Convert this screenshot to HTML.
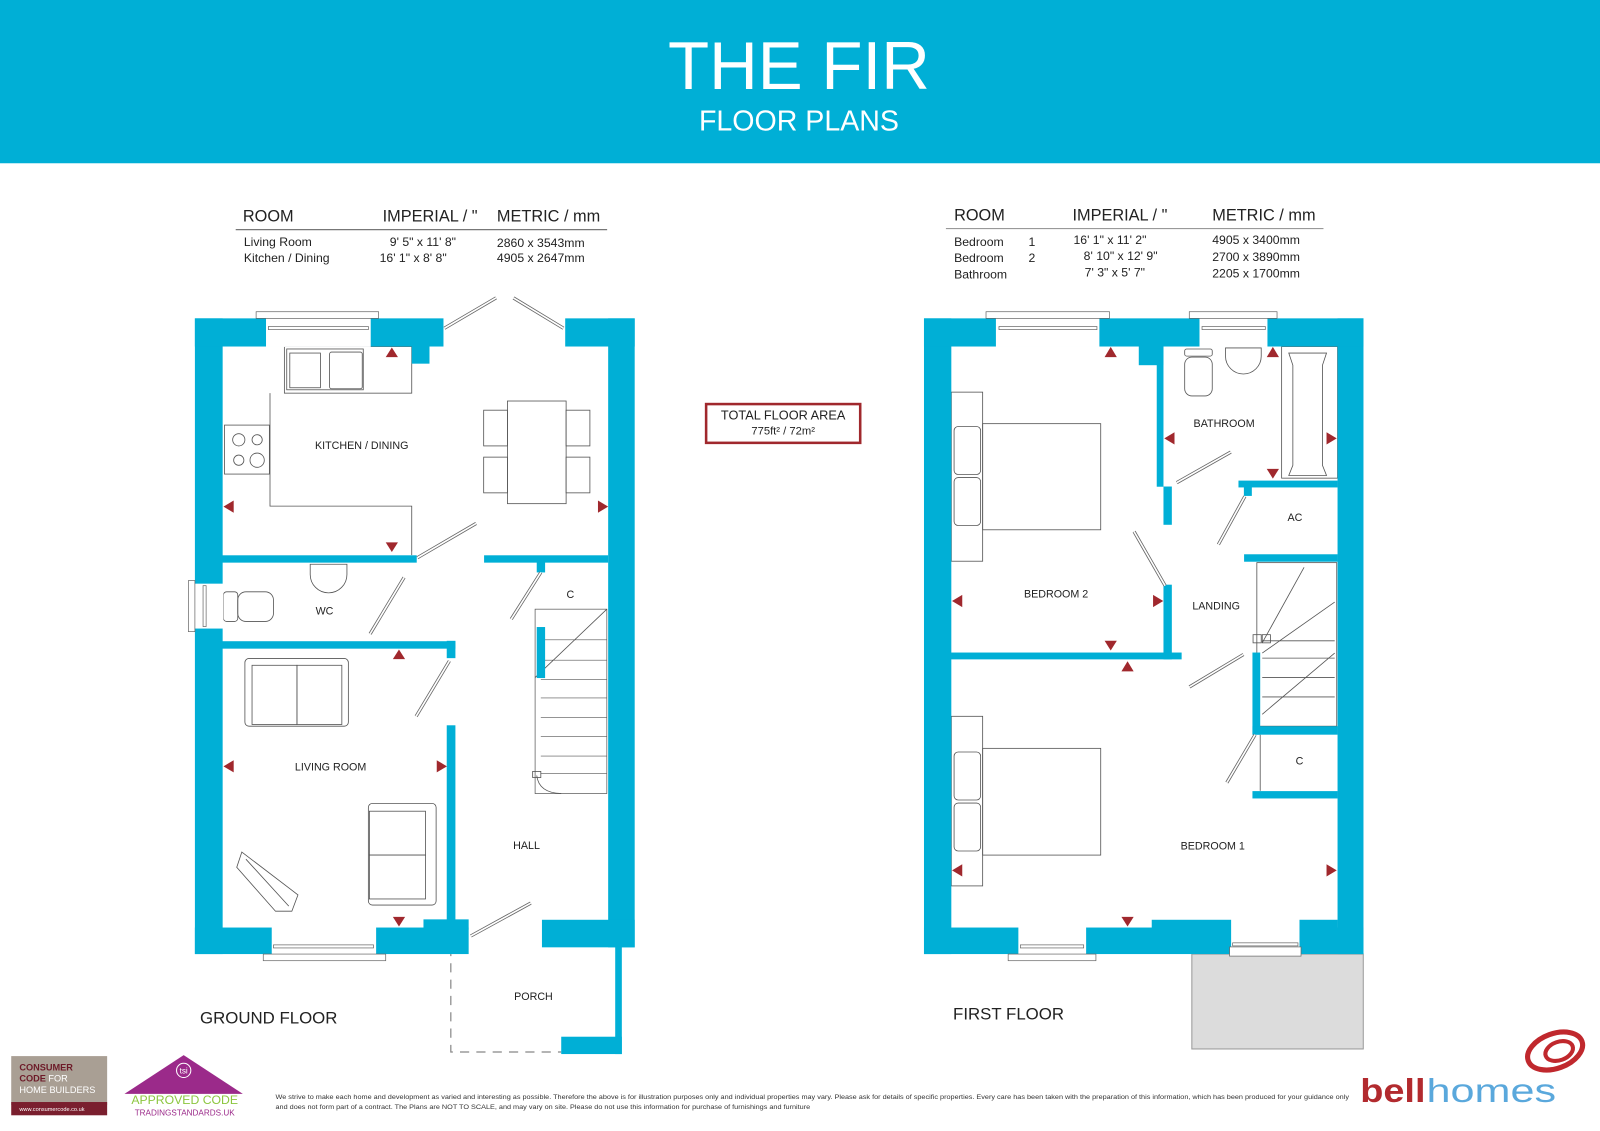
<!DOCTYPE html>
<html><head><meta charset="utf-8"><style>
html,body{margin:0;padding:0;background:#fff;}
svg{display:block;}
text{font-family:"Liberation Sans",Arial,sans-serif;}
</style></head><body>
<svg width="1600" height="1131" viewBox="0 0 1568 1108.4" preserveAspectRatio="none" xmlns="http://www.w3.org/2000/svg">
<rect x="0" y="0" width="1568" height="160" fill="#00afd6"/>
<text x="783" y="87" font-size="66" fill="#fff" text-anchor="middle">THE FIR</text>
<text x="783" y="128" font-size="28" fill="#fff" text-anchor="middle">FLOOR PLANS</text>

<!-- tables -->
<g font-size="16" fill="#222">
<text x="238" y="217">ROOM</text><text x="375" y="217">IMPERIAL / "</text><text x="487" y="217">METRIC / mm</text>
<text x="935" y="216">ROOM</text><text x="1051" y="216">IMPERIAL / "</text><text x="1188" y="216">METRIC / mm</text>
</g>
<line x1="231" y1="225" x2="595" y2="225" stroke="#777" stroke-width="1.2"/>
<line x1="927" y1="224" x2="1297" y2="224" stroke="#999" stroke-width="1.2"/>
<g font-size="12" fill="#222">
<text x="239" y="241">Living Room</text><text x="382" y="241">9' 5" x 11' 8"</text><text x="487" y="242">2860  x  3543mm</text>
<text x="239" y="257">Kitchen / Dining</text><text x="372" y="257">16' 1" x    8' 8"</text><text x="487" y="257">4905 x 2647mm</text>
<text x="935" y="241">Bedroom</text><text x="1008" y="241">1</text><text x="1052" y="239">16' 1" x 11' 2"</text><text x="1188" y="239">4905  x  3400mm</text>
<text x="935" y="257">Bedroom</text><text x="1008" y="257">2</text><text x="1062" y="255">8' 10" x 12' 9"</text><text x="1188" y="256">2700  x  3890mm</text>
<text x="935" y="273">Bathroom</text><text x="1063" y="271">7' 3"   x   5' 7"</text><text x="1188" y="272">2205 x 1700mm</text>
</g>

<!-- total area -->
<rect x="692" y="396" width="151" height="38" fill="#fff" stroke="#a0282d" stroke-width="2.5"/>
<text x="767.5" y="411" font-size="12.5" text-anchor="middle" fill="#222">TOTAL FLOOR AREA</text>
<text x="767.5" y="426" font-size="11" text-anchor="middle" fill="#222">775ft² / 72m²</text>

<!-- ================= GROUND FLOOR ================= -->
<g stroke="#555" stroke-width="0.8" fill="none">
<rect x="278.7" y="339.6" width="124.8" height="45.7" />
<path d="M264.6 385.3 V496 H403.5 V544" />
<rect x="281" y="342" width="75" height="40"/>
<rect x="323" y="345" width="32" height="36" rx="2"/>
<rect x="284" y="346" width="30" height="34"/>
<rect x="220" y="416.6" width="44" height="48"/>
<circle cx="234" cy="431" r="6"/><circle cx="252" cy="431" r="5"/><circle cx="234" cy="451" r="5"/><circle cx="252" cy="451" r="7"/>
<rect x="497.3" y="393" width="57.5" height="100.6"/>
<rect x="474" y="402" width="23.3" height="35"/><rect x="474" y="448" width="23.3" height="35"/>
<rect x="554.8" y="402" width="23.3" height="35"/><rect x="554.8" y="448" width="23.3" height="35"/>
<rect x="219" y="580" width="14" height="29" rx="3"/>
<rect x="233" y="580" width="35" height="29" rx="8"/>
<path d="M304 553 h36 v10 a18 18 0 0 1 -36 0z"/>
<rect x="240" y="645.3" width="101.4" height="66.4" rx="4"/>
<rect x="247" y="652" width="44" height="58"/><rect x="291" y="652" width="44" height="58"/>
<rect x="361" y="787.3" width="66.4" height="99.7" rx="4"/>
<rect x="362" y="795" width="55" height="43"/><rect x="362" y="838" width="55" height="43"/>
<path d="M237 835 L292 877 L286 893 L270 893 L232 850 Z"/>
<line x1="241" y1="842" x2="283" y2="888"/>
<rect x="524.4" y="597" width="70.3" height="180.7" stroke-width="0.7"/>
<line x1="524.4" y1="664" x2="594.7" y2="597"/>
<g stroke-width="0.6">
<line x1="530" y1="627" x2="594.7" y2="627"/><line x1="530" y1="647" x2="594.7" y2="647"/>
<line x1="530" y1="666" x2="594.7" y2="666"/><line x1="530" y1="684" x2="594.7" y2="684"/>
<line x1="530" y1="703" x2="594.7" y2="703"/><line x1="530" y1="722" x2="594.7" y2="722"/>
<line x1="530" y1="741" x2="594.7" y2="741"/><line x1="530" y1="758" x2="594.7" y2="758"/>
</g>
<path d="M526 760 Q528 777 550 777.7"/>
<rect x="522" y="756" width="8" height="6"/>
<path d="M441.8 928 V1031 H550" stroke-dasharray="9,7" stroke-width="1.2" stroke="#888"/>
</g>

<g fill="#00afd6">
<rect x="191" y="312" width="27.2" height="623"/>
<rect x="191" y="312" width="243.6" height="27.6"/>
<rect x="403.5" y="339" width="17.4" height="17.4"/>
<rect x="553.9" y="312" width="68.1" height="27.6"/>
<rect x="596" y="312" width="26" height="616.4"/>
<rect x="191" y="909" width="268.4" height="26"/>
<rect x="415" y="901" width="44.4" height="10"/>
<rect x="437.8" y="710.8" width="8.5" height="198"/>
<rect x="531" y="901.4" width="91" height="27"/>
<rect x="602.9" y="928" width="6.5" height="105"/>
<rect x="550" y="1016" width="59.4" height="17"/>
<rect x="218" y="544.2" width="190.4" height="7.2"/>
<rect x="474.4" y="544.2" width="121.6" height="7.2"/>
<rect x="218" y="628.4" width="228.3" height="7.3"/>
<rect x="437.8" y="628" width="8.5" height="17"/>
<rect x="526" y="614.5" width="8.2" height="50"/>
<rect x="526" y="551" width="8.2" height="10"/>
</g>
<g fill="#fff" stroke="#666" stroke-width="0.7">
<rect x="260.7" y="311" width="102.6" height="29" stroke="none"/>
<rect x="251" y="305.5" width="120" height="6.5"/>
<rect x="263" y="320" width="98" height="3"/>
<rect x="266.3" y="908" width="102.3" height="28" stroke="none"/>
<rect x="258" y="935" width="120" height="6.5"/>
<rect x="268" y="926" width="98" height="3"/>
<rect x="190" y="572" width="29" height="44" stroke="none"/>
<rect x="184.6" y="569" width="6.4" height="50"/>
<rect x="199" y="574" width="3" height="40"/>
<rect x="459.4" y="900" width="71.6" height="36" stroke="none"/>
</g>
<g stroke="#666" stroke-width="3.2">
<line x1="435.5" y1="321.7" x2="486.2" y2="291.9"/><line x1="503.2" y1="292" x2="552.2" y2="321.7"/>
<line x1="409" y1="546.6" x2="466.6" y2="513"/><line x1="362.7" y1="621.2" x2="396" y2="565.9"/>
<line x1="530" y1="561" x2="501" y2="606.8"/><line x1="440.4" y1="647.7" x2="407.8" y2="702"/>
<line x1="461.4" y1="917.3" x2="520.2" y2="885"/></g>
<g stroke="#fff" stroke-width="1.6">
<line x1="435.5" y1="321.7" x2="486.2" y2="291.9"/><line x1="503.2" y1="292" x2="552.2" y2="321.7"/>
<line x1="409" y1="546.6" x2="466.6" y2="513"/><line x1="362.7" y1="621.2" x2="396" y2="565.9"/>
<line x1="530" y1="561" x2="501" y2="606.8"/><line x1="440.4" y1="647.7" x2="407.8" y2="702"/>
<line x1="461.4" y1="917.3" x2="520.2" y2="885"/></g>

<g fill="#a0282d">
<polygon points="384,340.5 378,350 390,350"/>
<polygon points="219,496.5 229,490.5 229,502.5"/>
<polygon points="384,541 378,531.5 390,531.5"/>
<polygon points="596,496.5 586,490.5 586,502.5"/>
<polygon points="391,636.5 385,646 397,646"/>
<polygon points="219,751 229,745 229,757"/>
<polygon points="438,751 428,745 428,757"/>
<polygon points="391,908 385,898.5 397,898.5"/>
</g>
<g font-size="10.5" fill="#222" text-anchor="middle">
<text x="354.5" y="440">KITCHEN / DINING</text>
<text x="318" y="602">WC</text>
<text x="559" y="586">C</text>
<text x="324" y="755">LIVING ROOM</text>
<text x="516" y="832">HALL</text>
<text x="522.8" y="980">PORCH</text>
</g>
<text x="196" y="1003" font-size="16.5" fill="#222">GROUND FLOOR</text>

<!-- ================= FIRST FLOOR ================= -->
<rect x="1168" y="935" width="168" height="93" fill="#dcdcdc" stroke="#999" stroke-width="1"/>
<g stroke="#555" stroke-width="0.8" fill="none">
<rect x="932.3" y="384.3" width="30.7" height="165.7"/>
<rect x="963" y="415.2" width="115.7" height="104"/>
<rect x="935" y="418" width="26" height="47" rx="4"/><rect x="935" y="468" width="26" height="47" rx="4"/>
<rect x="932.3" y="702" width="30.7" height="166.2"/>
<rect x="963" y="733.4" width="115.7" height="104.6"/>
<rect x="935" y="737" width="26" height="47" rx="4"/><rect x="935" y="787" width="26" height="47" rx="4"/>
<rect x="1161" y="342" width="27" height="7" rx="2"/>
<rect x="1161" y="350" width="27" height="38" rx="7"/>
<path d="M1201 341 h35 v8 a17 17 0 0 1 -35 0z"/>
<rect x="1256" y="339.6" width="54.8" height="129"/>
<path d="M1263 346 h37 l-4 12 v98 l4 10 h-37 l4 -10 v-98z"/>
<rect x="1231.7" y="551.4" width="78.3" height="160.3"/>
<line x1="1237" y1="630" x2="1278" y2="556"/>
<line x1="1237" y1="640" x2="1308" y2="590"/>
<line x1="1237" y1="700" x2="1308" y2="640"/>
<line x1="1237" y1="628" x2="1308" y2="628"/>
<line x1="1237" y1="645" x2="1308" y2="645"/><line x1="1237" y1="664" x2="1308" y2="664"/>
<line x1="1237" y1="683" x2="1308" y2="683"/>
<rect x="1228" y="622" width="8" height="8"/><rect x="1237" y="622" width="8" height="8"/>
<line x1="1235" y1="720" x2="1235" y2="775"/>
</g>
<g fill="#00afd6">
<rect x="905.5" y="312" width="26.8" height="623"/>
<rect x="1310.8" y="312" width="25.4" height="623"/>
<rect x="905.5" y="312" width="430.7" height="27.6"/>
<rect x="1116" y="339" width="24.2" height="18.9"/>
<rect x="1133.6" y="339" width="6.6" height="138"/>
<rect x="1140.2" y="476.8" width="8.2" height="37.5"/>
<rect x="1213.7" y="471" width="97.1" height="6.7"/>
<rect x="1219" y="476" width="7.8" height="10"/>
<rect x="1219.2" y="543.2" width="91.6" height="7.3"/>
<rect x="1227.4" y="639.5" width="7.6" height="80.5"/>
<rect x="1227.4" y="711.7" width="83.4" height="8.3"/>
<rect x="1227.4" y="775.3" width="83.4" height="7.2"/>
<rect x="1140.2" y="573" width="8.2" height="73.2"/>
<rect x="932" y="639.5" width="226" height="6.7"/>
<rect x="905.5" y="909" width="430.7" height="26"/>
<rect x="1128.7" y="901.4" width="182.1" height="8"/>
</g>
<g fill="#fff" stroke="#666" stroke-width="0.7">
<rect x="976" y="311" width="101.4" height="29" stroke="none"/>
<rect x="966.3" y="305.5" width="121" height="6.5"/>
<rect x="979" y="320" width="96" height="3"/>
<rect x="1175.5" y="311" width="66.6" height="29" stroke="none"/>
<rect x="1165.5" y="305.5" width="86" height="6.5"/>
<rect x="1178" y="320" width="62" height="3"/>
<rect x="998" y="908" width="66.4" height="28" stroke="none"/>
<rect x="988" y="935" width="86" height="6.5"/>
<rect x="1000" y="926" width="62" height="3"/>
<rect x="1206.5" y="900" width="67" height="36" stroke="none"/>
<rect x="1205" y="928" width="70" height="9"/>
<rect x="1208" y="924" width="64" height="3"/>
</g>
<g stroke="#666" stroke-width="3.2">
<line x1="1153.2" y1="473" x2="1206.2" y2="443"/><line x1="1141.8" y1="574" x2="1111.4" y2="521"/>
<line x1="1220" y1="486.4" x2="1194" y2="533.6"/><line x1="1218.6" y1="641.4" x2="1165.7" y2="673.2"/>
<line x1="1230" y1="720" x2="1202.3" y2="767"/></g>
<g stroke="#fff" stroke-width="1.6">
<line x1="1153.2" y1="473" x2="1206.2" y2="443"/><line x1="1141.8" y1="574" x2="1111.4" y2="521"/>
<line x1="1220" y1="486.4" x2="1194" y2="533.6"/><line x1="1218.6" y1="641.4" x2="1165.7" y2="673.2"/>
<line x1="1230" y1="720" x2="1202.3" y2="767"/></g>
<g fill="#a0282d">
<polygon points="1088.5,340 1082.5,350 1094.5,350"/>
<polygon points="933,589 943,583 943,595"/>
<polygon points="1140,589 1130,583 1130,595"/>
<polygon points="1088.5,637.5 1082.5,628 1094.5,628"/>
<polygon points="1105,648 1099,658 1111,658"/>
<polygon points="933,853 943,847 943,859"/>
<polygon points="1310,853 1300,847 1300,859"/>
<polygon points="1105,908 1099,898.5 1111,898.5"/>
<polygon points="1141,429.6 1151,423.6 1151,435.6"/>
<polygon points="1247.4,340 1241.4,350 1253.4,350"/>
<polygon points="1310,429.6 1300,423.6 1300,435.6"/>
<polygon points="1247.4,469 1241.4,459.5 1253.4,459.5"/>
</g>
<g font-size="10.5" fill="#222" text-anchor="middle">
<text x="1199.6" y="418.5">BATHROOM</text>
<text x="1269" y="510.5">AC</text>
<text x="1035" y="585.5">BEDROOM 2</text>
<text x="1191.8" y="597.5">LANDING</text>
<text x="1273.5" y="749">C</text>
<text x="1188.5" y="832.5">BEDROOM 1</text>
</g>
<text x="934" y="999" font-size="16.5" fill="#222">FIRST FLOOR</text>

<!-- ================= FOOTER ================= -->
<rect x="11" y="1035" width="94" height="48" fill="#a99f94"/>
<rect x="11" y="1080" width="94" height="13" fill="#7a1f2e"/>
<text x="19" y="1049" font-size="9" font-weight="bold" fill="#6d1a28">CONSUMER</text>
<text x="19" y="1060" font-size="9" fill="#fff"><tspan font-weight="bold" fill="#6d1a28">CODE</tspan> FOR</text>
<text x="19" y="1071" font-size="9" fill="#fff">HOME BUILDERS</text>
<text x="19" y="1089" font-size="5.5" fill="#fff">www.consumercode.co.uk</text>
<polygon points="180,1034 238,1072 122,1072" fill="#9b2a8a"/>
<circle cx="180" cy="1049" r="7" fill="none" stroke="#fff" stroke-width="1"/>
<text x="180" y="1052" font-size="8" fill="#fff" text-anchor="middle">tsi</text>
<text x="181" y="1082" font-size="12" fill="#8cc63f" text-anchor="middle">APPROVED CODE</text>
<text x="181" y="1093" font-size="8" fill="#9b2a8a" text-anchor="middle">TRADINGSTANDARDS.UK</text>
<text x="270" y="1077" font-size="6.2" fill="#333" textLength="1052" lengthAdjust="spacingAndGlyphs">We strive to make each home and development as varied and interesting as possible. Therefore the above is for illustration purposes only and individual properties may vary. Please ask for details of specific properties. Every care has been taken with the preparation of this information, which has been produced for your guidance only</text>
<text x="270" y="1087" font-size="6.2" fill="#333" textLength="524" lengthAdjust="spacingAndGlyphs">and does not form part of a contract. The Plans are NOT TO SCALE, and may vary on site. Please do not use this information for purchase of furnishings and furniture</text>
<text x="1333" y="1080" font-size="33" font-weight="bold" fill="#b22a2e" textLength="64" lengthAdjust="spacingAndGlyphs">bell</text>
<text x="1398" y="1080" font-size="33" fill="#5aa8dc" textLength="127" lengthAdjust="spacingAndGlyphs">homes</text>
<g fill="none" stroke="#c0282d">
<ellipse cx="1524" cy="1030" rx="28" ry="17" stroke-width="5" transform="rotate(-20 1524 1030)"/>
<ellipse cx="1528" cy="1030" rx="14" ry="9" stroke-width="4" transform="rotate(-20 1528 1030)"/>
</g>
</svg>
</body></html>
